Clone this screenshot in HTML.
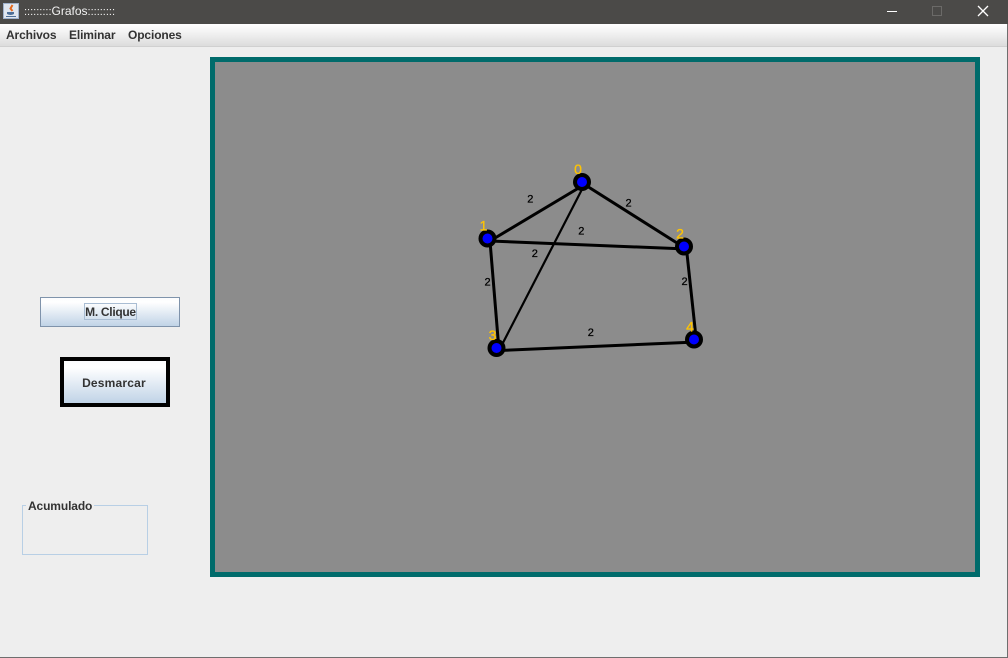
<!DOCTYPE html>
<html lang="es">
<head>
<meta charset="utf-8">
<title>Grafos</title>
<style>
  html, body { margin: 0; padding: 0; }
  body { width: 1008px; height: 658px; overflow: hidden; background: #eeeeee; position: relative; font-family: "Liberation Sans", sans-serif; }
  .abs { position: absolute; box-sizing: border-box; }
  .menu-item { position: absolute; top: 27.5px; font-size: 12px; font-weight: bold; color: #333333; line-height: 15px; white-space: nowrap; letter-spacing: -0.12px; }
  .btn { background: linear-gradient(#fbfcfe 0%, #ffffff 15%, #c0d3e7 100%); color: #333333; font-size: 12px; font-weight: bold; text-align: center; }
</style>
</head>
<body>
  <div class="abs" style="left:0;top:0;width:1008px;height:24px;background:#4b4a48;"></div>
  <svg class="abs" style="left:3px;top:3px;" width="16" height="16" viewBox="0 0 16 16">
    <rect x="0.5" y="0.5" width="15" height="15" fill="#dfe6ef" stroke="#9fb2cc"/>
    <path d="M9.5 2 L7.5 5.5 L9.5 8" stroke="#e2691f" stroke-width="2" fill="none"/>
    <path d="M4 9 H11 V11 Q7.5 13 4 11 Z" fill="#4d6f98"/>
    <path d="M3 13.5 H13" stroke="#4d6f98" stroke-width="1"/>
  </svg>
  <div class="abs" style="left:24px;top:4px;font-size:11px;line-height:14px;color:#f2f2f2;white-space:nowrap;">:::::::::<span style="font-size:12px;">Grafos</span>:::::::::</div>
  <div class="abs" style="left:887px;top:11px;width:10px;height:1px;background:#ffffff;"></div>
  <div class="abs" style="left:932px;top:6px;width:10px;height:10px;border:1px solid #6b6a68;"></div>
  <svg class="abs" style="left:977px;top:5px;" width="12" height="12" viewBox="0 0 12 12">
    <path d="M1 1 L11 11 M11 1 L1 11" stroke="#ffffff" stroke-width="1.3"/>
  </svg>

  <div class="abs" style="left:0;top:24px;width:1008px;height:23px;background:linear-gradient(#ffffff 0%,#f7f7f7 25%,#dcdcdc 100%);border-bottom:1px solid #d0d0d0;"></div>
  <div class="menu-item" style="left:6px;">Archivos</div>
  <div class="menu-item" style="left:69px;">Eliminar</div>
  <div class="menu-item" style="left:128px;">Opciones</div>

  <div class="abs btn" style="left:40px;top:297px;width:140px;height:30px;border:1px solid #7f93ab;"></div>
  <div class="abs" style="left:84px;top:303px;width:53px;height:17px;border:1px solid #a9bdd3;font-size:12px;font-weight:bold;color:#333333;line-height:16px;text-align:center;letter-spacing:-0.3px;white-space:nowrap;">M. Clique</div>
  <div class="abs btn" style="left:60px;top:357px;width:110px;height:50px;border:4px solid #000000;line-height:44px;letter-spacing:0.2px;text-indent:-2px;">Desmarcar</div>

  <div class="abs" style="left:22px;top:505px;width:126px;height:50px;border:1px solid #b8cfe5;"></div>
  <div class="abs" style="left:26px;top:499px;padding:0 2px;background:#eeeeee;font-size:12px;font-weight:bold;line-height:14px;color:#333333;letter-spacing:-0.12px;">Acumulado</div>

  <div class="abs" style="left:1006.5px;top:24px;width:1.5px;height:634px;background:#6e6e6e;"></div>
  <div class="abs" style="left:0;top:657px;width:1008px;height:1px;background:#6e6e6e;"></div>

  <svg class="abs" id="graph" style="left:0;top:0;pointer-events:none;" width="1008" height="658" viewBox="0 0 1008 658">
    <rect x="212.5" y="59.5" width="765" height="515" fill="#8c8c8c" stroke="#006b6b" stroke-width="5"/>
  </svg>

<script>
const nodeIds = [0, 1, 2, 3, 4];
const nodeX = [582, 487.5, 684, 496.5, 694];
const nodeY = [182, 238.5, 246.5, 348, 339.5];
const edgeFrom = [0, 0, 1, 1, 0, 2, 3];
const edgeTo = [1, 2, 2, 3, 3, 4, 4];
const edgeWeights = [2, 2, 2, 2, 2, 2, 2];

const svgNS = 'http://www.w3.org/2000/svg';
const graph = document.getElementById('graph');
const edgeShift = 2.5;

function make(tag, attrs) {
  const el = document.createElementNS(svgNS, tag);
  Object.keys(attrs).forEach(function (k) { el.setAttribute(k, attrs[k]); });
  graph.appendChild(el);
  return el;
}

edgeFrom.forEach(function (from, i) {
  const to = edgeTo[i];
  const line = make('line', {
    x1: nodeX[from] + edgeShift, y1: nodeY[from] + edgeShift,
    x2: nodeX[to] + edgeShift, y2: nodeY[to] + edgeShift,
    stroke: '#000000',
    'stroke-width': (from === 0 && to === 3) ? 2.2 : 3
  });
  
  
});

edgeFrom.forEach(function (from, i) {
  const to = edgeTo[i];
  const label = make('text', {
    x: (nodeX[from] + nodeX[to]) / 2 - 4.5,
    y: (nodeY[from] + nodeY[to]) / 2 - 8,
    fill: '#000000',
    stroke: '#000000',
    'stroke-width': 0.25,
    'font-family': '"Liberation Mono", monospace',
    'font-size': 11,
    'text-anchor': 'middle'
  });
  label.textContent = edgeWeights[i];
  
  
});

nodeIds.forEach(function (id, i) {
  const outer = make('circle', { cx: nodeX[i], cy: nodeY[i], r: 9, fill: '#000000' });
  
  
  const inner = make('circle', { cx: nodeX[i], cy: nodeY[i], r: 5, fill: '#0000ff' });
  
  
  const label = make('text', {
    x: nodeX[i] - 4,
    y: nodeY[i] - 8,
    fill: '#ffc400',
    stroke: '#ffc400',
    'stroke-width': 0.3,
    'font-family': '"Liberation Sans", sans-serif',
    'font-size': 14,
    'text-anchor': 'middle'
  });
  label.textContent = id;
  
  
});
</script>
</body>
</html>
